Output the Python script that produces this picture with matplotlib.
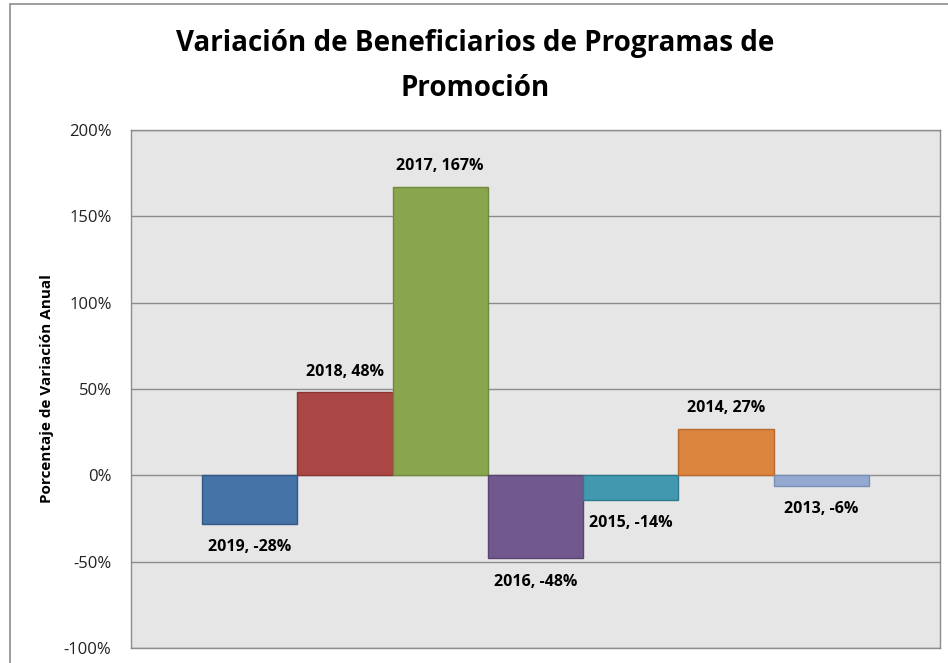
import matplotlib
matplotlib.use("Agg")
import matplotlib.pyplot as plt
from matplotlib.patches import Rectangle
from matplotlib.ticker import FuncFormatter

# data
years = ["2019", "2018", "2017", "2016", "2015", "2014", "2013"]
variation = [-28, 48, 167, -48, -14, 27, -6]
fill_colors = ["#4572A7", "#AA4643", "#89A54E", "#71588F", "#4198AF", "#DB843D", "#93A9CF"]
edge_colors = ["#35588A", "#8A3330", "#6E8A3A", "#58456F", "#2F7A8E", "#B86A2C", "#7A8FB5"]
y_ticks = [-100, -50, 0, 50, 100, 150, 200]

plt.rcParams['font.family'] = ['Open Sans', 'DejaVu Sans']

fig = plt.figure(figsize=(9.48, 6.63), dpi=100)
fig.patch.set_facecolor("white")

# outer chart frame (only left and top visible in the crop)
fig.patches.append(Rectangle((10 / 948, -0.2), 1.5, 1.2 - 4 / 663,
                             transform=fig.transFigure, fill=False,
                             edgecolor="#8C8C8C", linewidth=1.2))

ax = fig.add_axes([131 / 948, 1 - 648 / 663, 809 / 948, 518 / 663])
ax.set_facecolor("#E6E6E6")

x = list(range(len(years)))
ax.bar(x, variation, width=1.0, color=fill_colors, edgecolor=edge_colors,
       linewidth=1.0, zorder=3)

for xi, yr, v in zip(x, years, variation):
    label = "%s, %d%%" % (yr, v)
    if v >= 0:
        ax.annotate(label, (xi, v), xytext=(0, 15), textcoords="offset points",
                    ha="center", va="center", fontsize=11.5, fontweight="bold")
    else:
        ax.annotate(label, (xi, v), xytext=(0, -17), textcoords="offset points",
                    ha="center", va="center", fontsize=11.5, fontweight="bold")

ax.set_xlim(-0.5 - 0.745, len(years) - 0.5 + 0.745)
ax.set_ylim(-100, 200)
ax.set_yticks(y_ticks)
ax.yaxis.set_major_formatter(FuncFormatter(lambda v, p: "%d%%" % v))
ax.set_xticks([])
ax.tick_params(axis="y", length=0, pad=14, labelsize=12, labelcolor="#222222")
ax.grid(axis="y", color="#8C8C8C", linewidth=1.0, zorder=1)
for s in ax.spines.values():
    s.set_color("#8C8C8C")
    s.set_linewidth(1.0)

fig.text(47 / 948, 1 - 389 / 663, "Porcentaje de Variación Anual", rotation=90,
         ha="center", va="center", fontsize=11, fontweight="bold")

fig.text(475 / 948, 1 - 43 / 663, "Variación de Beneficiarios de Programas de",
         ha="center", va="center", fontsize=20, fontweight="bold")
fig.text(475 / 948, 1 - 88 / 663, "Promoción",
         ha="center", va="center", fontsize=20, fontweight="bold")

fig.savefig("out.png", dpi=100)
